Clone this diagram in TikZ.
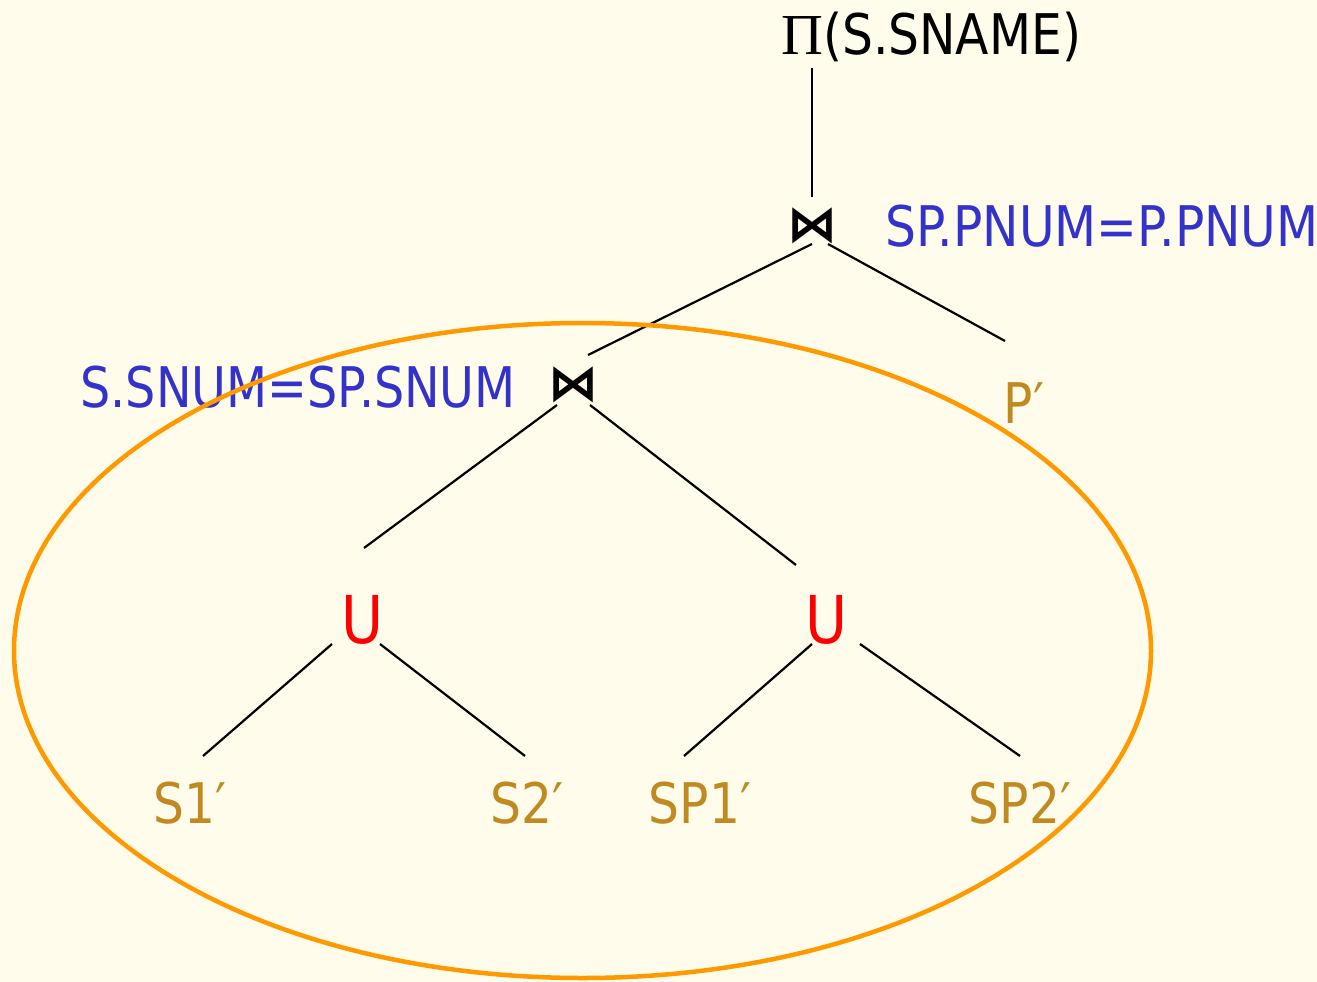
\documentclass[tikz,border=0pt]{standalone}
\usepackage{fontspec}
\setmainfont{DejaVu Sans}
\newfontfamily\serifpi{Liberation Serif}
\usetikzlibrary{calc}
\definecolor{bgcol}{RGB}{255,252,235}
\definecolor{condblue}{RGB}{51,51,204}
\definecolor{leafcol}{RGB}{192,138,32}
\definecolor{unionred}{RGB}{255,0,0}
\definecolor{ellcol}{RGB}{255,153,0}
\newcommand{\nar}[1]{\scalebox{0.87}[1]{#1}}
\newcommand{\narr}[1]{\scalebox{0.85}[1]{#1}}
\tikzset{
  lbl/.style={inner sep=0pt, font=\fontsize{56}{60}\selectfont},
  cond/.style={lbl, text=condblue},
  leaf/.style={lbl, text=leafcol},
  uni/.style={inner sep=0pt, font=\fontsize{66}{70}\selectfont, text=unionred},
  joinop/.style={inner sep=0pt, font=\fontsize{50}{55}\selectfont\bfseries},
  edge/.style={draw=black, line width=2.2pt},
}
\begin{document}
\begin{tikzpicture}[x=1pt,y=-1pt]
\fill[bgcol] (0,0) rectangle (1317,982);
\useasboundingbox (0,0) rectangle (1317,982);

% nodes
\node[lbl, anchor=west] (top) at (781,37) {{\serifpi\fontsize{58}{60}\selectfont Π}\nar{(S.SNAME)}};
\node[joinop] (j1) at (812,226) {⋈};
\node[cond, anchor=west] (c1) at (885,226) {\nar{SP.PNUM=P.PNUM}};
\node[joinop] (j2) at (573,385) {⋈};
\node[cond, anchor=east] (c2) at (516,387) {\narr{S.SNUM=SP.SNUM}};
\node[leaf] (p) at (1024,403) {\nar{P′}};
\node[uni] (u1) at (363,620) {\nar{U}};
\node[uni] (u2) at (827,620) {\nar{U}};
\node[leaf] (s1) at (190,803) {\nar{S1′}};
\node[leaf] (s2) at (527,803) {\nar{S2′}};
\node[leaf] (sp1) at (700,803) {\nar{SP1′}};
\node[leaf] (sp2) at (1020,803) {\nar{SP2′}};

% connectors
\draw[edge] ($(j1)+(0,-29)$) -- ($(top.west)+(31,31)$);
\draw[edge] ($(j1)+(0,18)$) -- ($(j2)+(15,-30)$);
\draw[edge] ($(j1)+(16,18)$) -- ($(p)+(-19,-62)$);
\draw[edge] ($(j2)+(-16,20)$) -- ($(u1)+(1,-72)$);
\draw[edge] ($(j2)+(17,20)$) -- ($(u2)+(-31,-55)$);
\draw[edge] ($(u1)+(-31,24)$) -- ($(s1)+(13,-47)$);
\draw[edge] ($(u1)+(17,24)$) -- ($(s2)+(-2,-47)$);
\draw[edge] ($(u2)+(-15,24)$) -- ($(sp1)+(-16,-47)$);
\draw[edge] ($(u2)+(33,24)$) -- ($(sp2)+(0,-47)$);

% ellipse
\draw[ellcol, line width=4.5pt] (582.5,650.5) ellipse [x radius=568.5, y radius=327.5];
\end{tikzpicture}
\end{document}
